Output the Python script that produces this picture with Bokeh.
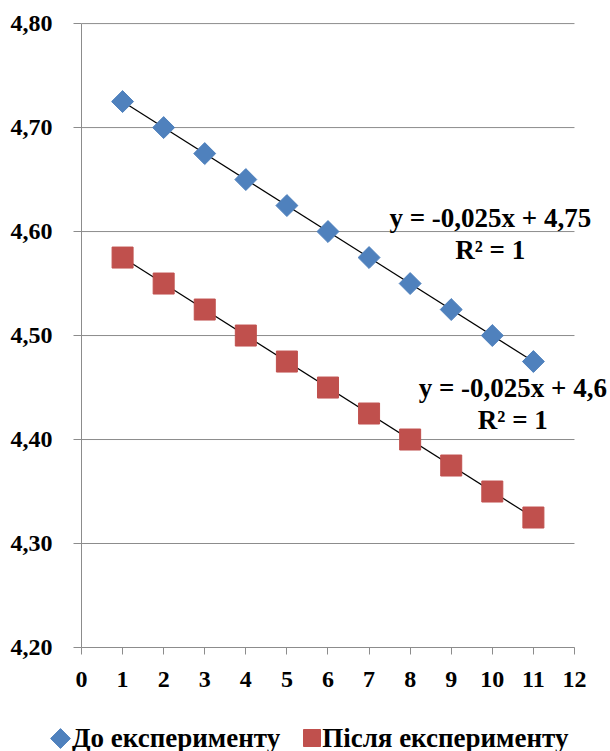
import numpy as np
from bokeh.plotting import figure
from bokeh.layouts import column
from bokeh.models import Range1d, FixedTicker, Label, Legend, LegendItem, ColumnDataSource
from bokeh.embed import file_html
from bokeh.resources import INLINE

# ---- data ----
x_vals = [1, 2, 3, 4, 5, 6, 7, 8, 9, 10, 11]
before = [4.725, 4.700, 4.675, 4.650, 4.625, 4.600, 4.575, 4.550, 4.525, 4.500, 4.475]
after = [4.575, 4.550, 4.525, 4.500, 4.475, 4.450, 4.425, 4.400, 4.375, 4.350, 4.325]
series_names = ["До експерименту", "Після експерименту"]
y_ticks = [4.2, 4.3, 4.4, 4.5, 4.6, 4.7, 4.8]
y_tick_labels = ["4,20", "4,30", "4,40", "4,50", "4,60", "4,70", "4,80"]
x_ticks = [0, 1, 2, 3, 4, 5, 6, 7, 8, 9, 10, 11, 12]
eq_before = "y = -0,025x + 4,75"
eq_after = "y = -0,025x + 4,6"
r2_text = "R² = 1"

BLUE = "#4F81BD"
RED = "#C0504D"
GRID = "#8c8c8c"
FONT = "Liberation Serif"

p = figure(width=610, height=710, x_range=Range1d(0, 12.877), y_range=Range1d(4.2, 4.802),
           output_backend="svg", toolbar_location=None,
           min_border_left=81, min_border_right=0, min_border_top=21, min_border_bottom=63)
p.outline_line_color = None
p.xgrid.grid_line_color = None
p.ygrid.grid_line_color = None

for ax in (p.xaxis[0], p.yaxis[0]):
    ax.axis_line_color = GRID
    ax.major_tick_line_color = GRID
    ax.minor_tick_line_color = None
    ax.major_tick_in = 0
    ax.major_label_text_font = FONT
    ax.major_label_text_font_style = "bold"
    ax.major_label_text_font_size = "24px"
    ax.major_label_text_color = "black"

p.yaxis.ticker = FixedTicker(ticks=y_ticks)
p.yaxis.major_label_overrides = {t: l for t, l in zip(y_ticks, y_tick_labels)}
p.yaxis.major_tick_out = 8
p.yaxis.major_label_standoff = 21
p.yaxis.bounds = (y_ticks[0], y_ticks[-1])
p.xaxis.ticker = FixedTicker(ticks=x_ticks)
p.xaxis.major_tick_out = 7
p.xaxis.major_label_standoff = 17
p.xaxis.bounds = (x_ticks[0], x_ticks[-1])

# horizontal gridlines, spanning the x axis extent
p.segment(x0=[x_ticks[0]] * len(y_ticks), x1=[x_ticks[-1]] * len(y_ticks),
          y0=y_ticks, y1=y_ticks, line_color=GRID, line_width=1)

# trendlines (least squares on the data)
for ys in (before, after):
    k, b = np.polyfit(x_vals, ys, 1)
    xs = np.array([x_vals[0], x_vals[-1]], dtype=float)
    p.line(xs, k * xs + b, line_color="black", line_width=1.2)

src_b = ColumnDataSource(dict(x=x_vals, y=before))
src_a = ColumnDataSource(dict(x=x_vals, y=after))
r_b = p.scatter("x", "y", source=src_b, marker="square", angle=np.pi / 4, size=15.5,
                fill_color=BLUE, line_color=BLUE)
r_a = p.scatter("x", "y", source=src_a, marker="square", size=21,
                fill_color=RED, line_color=RED)

# equation labels
for (tx, ty, txt) in [(9.95, 4.6128, eq_before), (9.95, 4.582, r2_text),
                      (10.5, 4.4495, eq_after), (10.5, 4.4185, r2_text)]:
    p.add_layout(Label(x=tx, y=ty, text=txt, text_align="center", text_baseline="middle",
                       text_font=FONT, text_font_style="bold", text_font_size="27px",
                       text_color="black"))

# ---- legend strip below the chart (ranges in pixels of the strip) ----
pl = figure(width=610, height=41, x_range=Range1d(0, 610), y_range=Range1d(0, 41),
            output_backend="svg", toolbar_location=None,
            x_axis_type=None, y_axis_type=None,
            min_border_left=0, min_border_right=0, min_border_top=0, min_border_bottom=0)
pl.outline_line_color = None
pl.grid.visible = False
for f in (p, pl):
    if "frame_align" in f.properties():
        f.frame_align = False

# legend swatches (layout positions inside the strip)
swatch_x = [60, 311.5]
swatch_y = [13, 13.5]
pl.scatter(x=[swatch_x[0]], y=[swatch_y[0]], marker="square", angle=np.pi / 4, size=14,
           fill_color=BLUE, line_color=BLUE)
pl.scatter(x=[swatch_x[1]], y=[swatch_y[1]], marker="square", size=17,
           fill_color=RED, line_color=RED)

# legend labels (glyphs of these legend renderers are transparent; swatches drawn above)
lb = pl.scatter("x", "y", source=src_b, marker="square", fill_alpha=0, line_alpha=0,
                visible=False)
la = pl.scatter("x", "y", source=src_a, marker="square", fill_alpha=0, line_alpha=0,
                visible=False)
legend = Legend(items=[LegendItem(label=series_names[0], renderers=[lb]),
                       LegendItem(label=series_names[1], renderers=[la])],
                location=(48, -7), orientation="horizontal",
                glyph_width=24, glyph_height=40, label_standoff=0, spacing=18,
                padding=0, margin=0, border_line_color=None, background_fill_alpha=0,
                label_text_font=FONT, label_text_font_style="bold",
                label_text_font_size="27px", label_text_color="black",
                inactive_fill_alpha=0)
pl.add_layout(legend)

open("out.html", "w").write(file_html(column(p, pl, spacing=0), INLINE))
